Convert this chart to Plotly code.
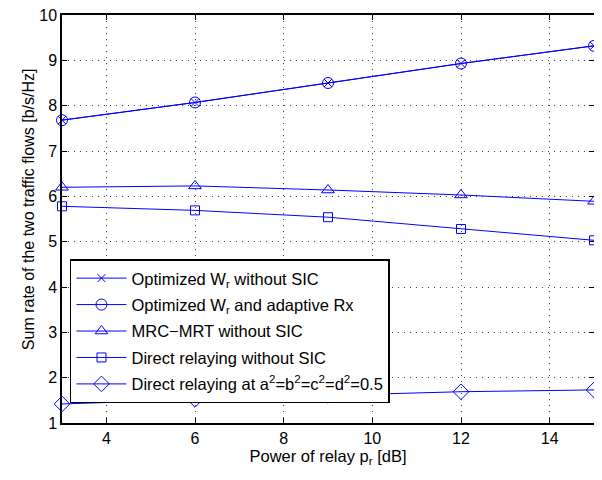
import plotly.graph_objects as go

power_db = [3, 6, 9, 12, 15]
opt_wr_no_sic = [7.68, 8.07, 8.50, 8.93, 9.32]
opt_wr_adaptive = [7.68, 8.07, 8.50, 8.93, 9.32]
mrc_mrt_no_sic = [6.20, 6.23, 6.14, 6.03, 5.89]
direct_no_sic = [5.78, 5.69, 5.54, 5.28, 5.03]
direct_half = [1.42, 1.52, 1.61, 1.69, 1.73]

names = [
    "Optimized W<sub>r</sub> without SIC",
    "Optimized W<sub>r</sub> and adaptive Rx",
    "MRC\u2212MRT without SIC",
    "Direct relaying without SIC",
    "Direct relaying at a<sup>2</sup>=b<sup>2</sup>=c<sup>2</sup>=d<sup>2</sup>=0.5",
]
series = [opt_wr_no_sic, opt_wr_adaptive, mrc_mrt_no_sic, direct_no_sic, direct_half]
symbols = ["x-thin-open", "circle-open", "triangle-up-open", "square-open", "diamond-open"]
sizes = [8, 11, 11, 9, 12]

fig = go.Figure()
for i, (name, ys, sym, sz) in enumerate(zip(names, series, symbols, sizes)):
    fig.add_trace(go.Scatter(
        x=power_db, y=ys, name=name, mode="lines+markers",
        legendgroup=f"g{i}", cliponaxis=False,
        line=dict(color="#0000FF", width=1),
        marker=dict(symbol=sym, size=sz, color="#0000FF",
                    line=dict(color="#0000FF", width=1)),
    ))

font = "Liberation Sans"
axis_common = dict(
    showline=True, linecolor="black", linewidth=1.5, mirror="ticks",
    ticks="inside", ticklen=5, tickcolor="black",
    showgrid=True, gridcolor="#444444", griddash="1px,5px", gridwidth=1,
    zeroline=False, tickfont=dict(family=font, size=16, color="black"),
    automargin=False, ticklabeloverflow="allow",
)
# page body has an 8px margin: size the figure so the plot area lands where the reference has it
fig.update_layout(
    width=594, height=472,
    paper_bgcolor="white", plot_bgcolor="white",
    margin=dict(l=54, r=8, t=7, b=57),
    font=dict(family=font, size=15, color="black"),
    xaxis=dict(range=[3, 15], tickvals=[4, 6, 8, 10, 12, 14],
               title=dict(text="Power of relay p<sub>r</sub> [dB]",
                          font=dict(family=font, size=16.5), standoff=2),
               **axis_common),
    yaxis=dict(range=[1, 10], tickvals=list(range(1, 11)), **axis_common),
    legend=dict(x=0.015, y=0.401, xanchor="left", yanchor="top",
                bgcolor="white", bordercolor="black", borderwidth=1.5,
                font=dict(family=font, size=16.5, color="black"),
                itemwidth=50, tracegroupgap=2),
    showlegend=True,
    annotations=[dict(
        text="Sum rate of the two traffic flows [b/s/Hz]",
        xref="paper", yref="paper", x=-0.064, y=0.524,
        xanchor="center", yanchor="middle", textangle=-90, showarrow=False,
        font=dict(family=font, size=16, color="black"),
    )],
)
fig.write_html("out.html")
